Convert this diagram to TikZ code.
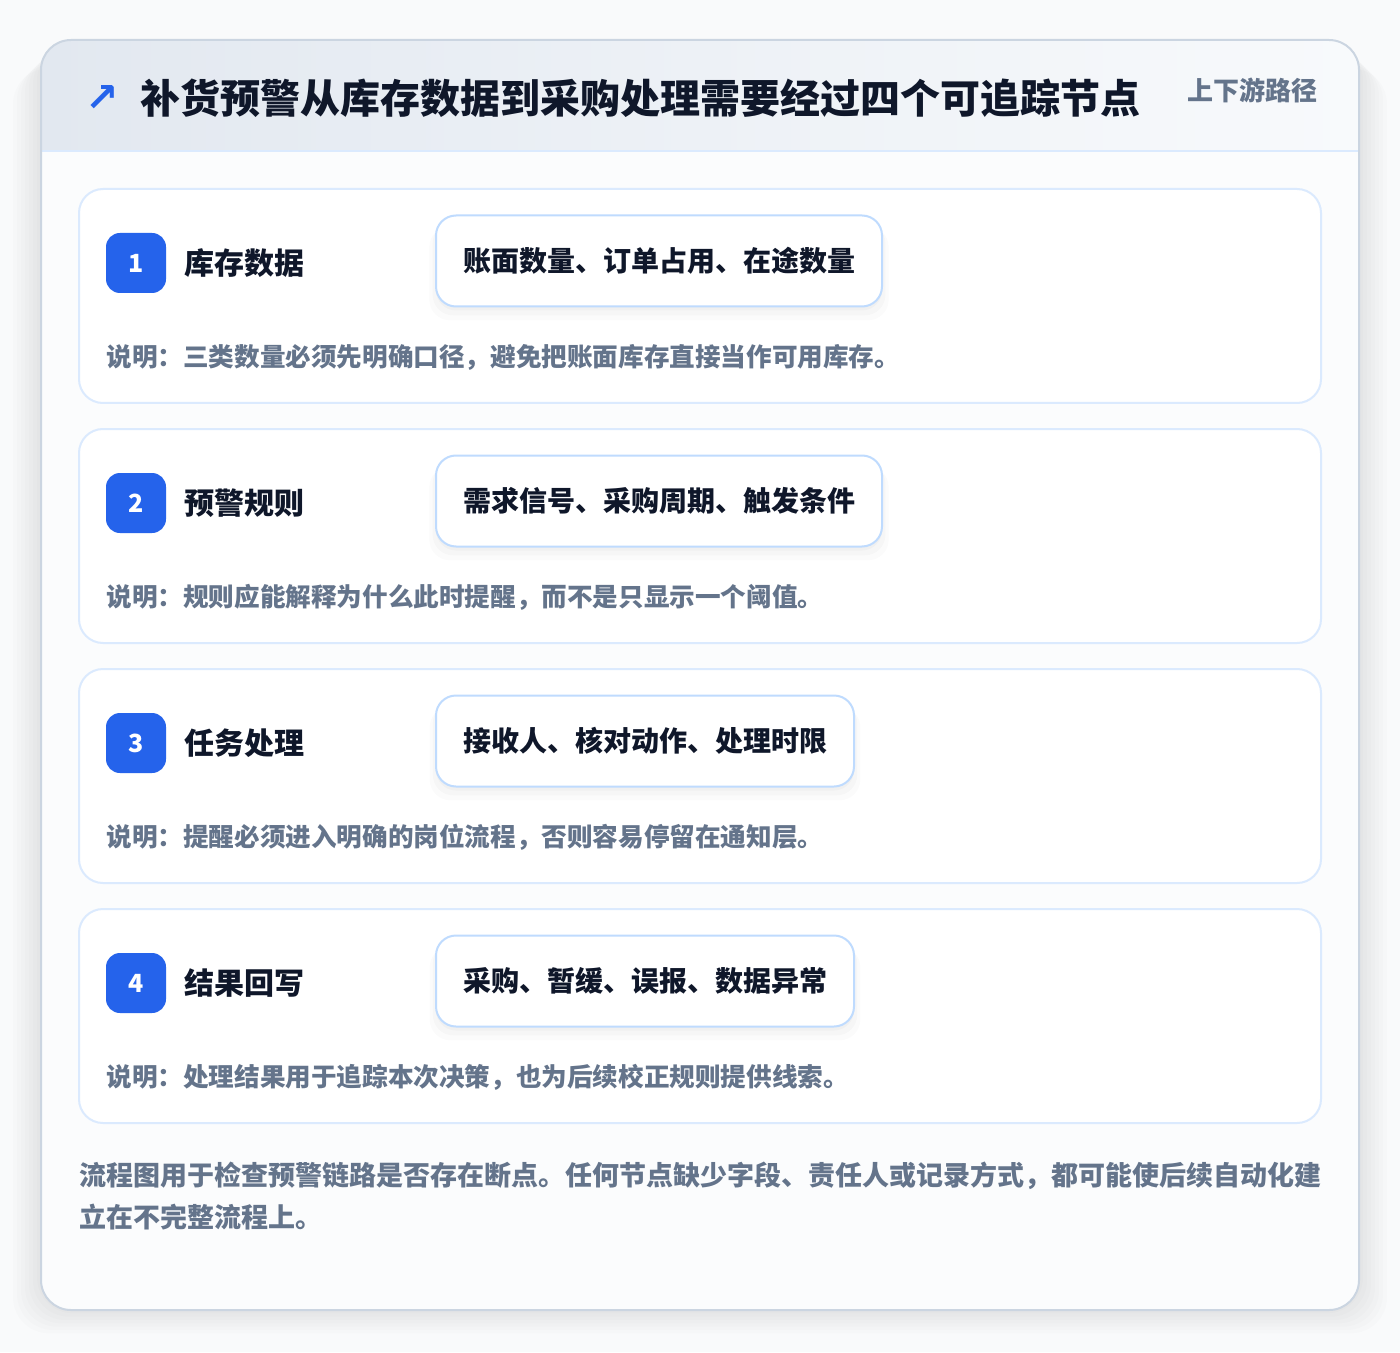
\documentclass[tikz,border=0pt]{standalone}
\usepackage{fontspec}
\setmainfont{Noto Sans CJK SC}
\newfontfamily\symfont{DejaVu Sans}
\usetikzlibrary{positioning,shadows}

\definecolor{accent}{HTML}{2563EB}
\definecolor{ink}{HTML}{0F172A}
\definecolor{muted}{HTML}{64748B}
\definecolor{frame}{HTML}{CBD5E1}
\definecolor{softline}{HTML}{DBEAFE}
\definecolor{tagline}{HTML}{BFDBFE}
\definecolor{headleft}{HTML}{E2E8F0}
\definecolor{headright}{HTML}{F8FAFC}
\definecolor{bodyfill}{HTML}{FBFCFD}
\definecolor{pagebg}{HTML}{F9FAFB}

\begin{document}
\begin{tikzpicture}[x=0.5pt, y=-0.5pt,
	stepcard/.style={draw=softline, line width=1pt, fill=white, rounded corners=12pt},
	badge/.style={fill=accent, rounded corners=7pt, minimum size=30pt, inner sep=0pt,
		text=white, font=\fontsize{12.5}{14}\selectfont\bfseries},
	steplabel/.style={inner sep=0pt, text=ink, font=\fontsize{15}{18}\selectfont\bfseries},
	tagbox/.style={draw=tagline, line width=1pt, fill=white, rounded corners=10pt,
		inner xsep=13.5pt, minimum height=45.5pt, text=ink,
		font=\fontsize{14}{17}\selectfont\bfseries,
		drop shadow={shadow xshift=0pt, shadow yshift=-6pt, shadow scale=1.03, opacity=0.015, fill=black},
		drop shadow={shadow xshift=0pt, shadow yshift=-4pt, shadow scale=1.015, opacity=0.02, fill=black},
		drop shadow={shadow xshift=0pt, shadow yshift=-2pt, opacity=0.025, fill=black}},
	note/.style={inner sep=0pt, text=muted, font=\fontsize{12.8}{16}\selectfont\bfseries}]

	\useasboundingbox (0,0) rectangle (1400,1352);
	\fill[pagebg] (0,0) rectangle (1400,1352);

	% soft shadow of the outer card
	\foreach \s in {4,8,...,28}
		\fill[black, opacity=0.012, rounded corners=18pt] (41-\s,40+\s) rectangle (1359+\s,1310+\s/1.2);

	% outer card and header band
	\fill[bodyfill, rounded corners=15pt] (41,40) rectangle (1359,1310);
	\fill[left color=headleft, right color=headright]
		(41,151) {[rounded corners=15pt] -- (41,40) -- (1359,40)} -- (1359,151) -- cycle;
	\draw[softline, line width=1pt] (41,151) -- (1359,151);
	\draw[frame, line width=1pt, rounded corners=15pt] (41,40) rectangle (1359,1310);

	\node[text=accent, font=\symfont\bfseries\fontsize{20}{22}\selectfont] (icon) at (102,99) {↗};
	\node[anchor=west, inner sep=0pt, text=ink, font=\fontsize{20}{24}\selectfont\bfseries]
		(title) at (140,98) {补货预警从库存数据到采购处理需要经过四个可追踪节点};
	\node[anchor=east, inner sep=0pt, text=muted, font=\fontsize{13}{16}\selectfont\bfseries]
		(path) at (1318,90) {上下游路径};

	% the four steps
	\foreach \n/\lbl/\tags/\desc in {
		1/库存数据/账面数量、订单占用、在途数量/三类数量必须先明确口径，避免把账面库存直接当作可用库存。,
		2/预警规则/需求信号、采购周期、触发条件/规则应能解释为什么此时提醒，而不是只显示一个阈值。,
		3/任务处理/接收人、核对动作、处理时限/提醒必须进入明确的岗位流程，否则容易停留在通知层。,
		4/结果回写/采购、暂缓、误报、数据异常/处理结果用于追踪本次决策，也为后续校正规则提供线索。}{
		\pgfmathsetmacro\top{189+240*(\n-1)}
		\draw[stepcard] (79,\top) rectangle (1321,\top+214);
		\node[badge] (badge\n) at (136,\top+74) {\n};
		\node[steplabel, right=9pt of badge\n] (label\n) {\lbl};
		\node[tagbox, anchor=west] (tag\n) at (435,\top+72) {\tags};
		\node[note, anchor=west] (note\n) at (106,\top+168) {说明：\desc};
	}

	\node[note, anchor=west, align=left, font=\fontsize{13.5}{21}\selectfont\bfseries] (summary) at (79,1196)
		{流程图用于检查预警链路是否存在断点。任何节点缺少字段、责任人或记录方式，都可能使后续自动化建\\立在不完整流程上。};
\end{tikzpicture}
\end{document}
